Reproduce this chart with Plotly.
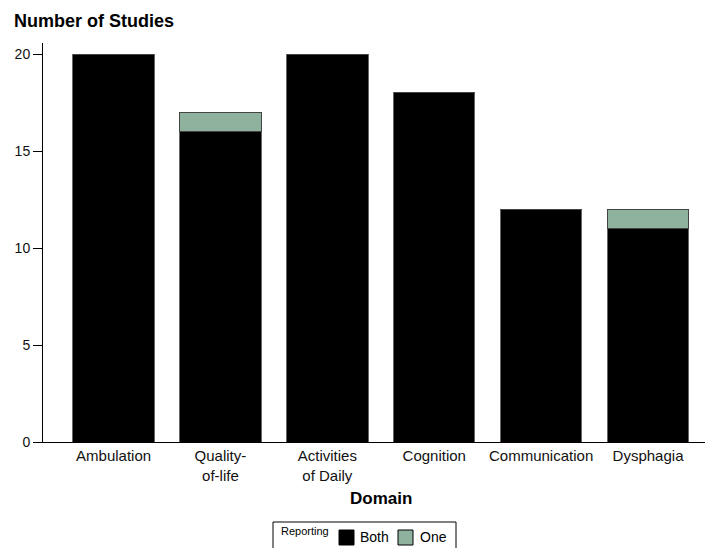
import plotly.graph_objects as go

categories = ["Ambulation", "Quality-<br>of-life", "Activities<br>of Daily", "Cognition", "Communication", "Dysphagia"]
both = [20, 16, 20, 18, 12, 11]
one = [0, 1, 0, 0, 0, 1]
y_ticks = [0, 5, 10, 15, 20]
series_names = ["Both", "One"]
series_colors = ["#000000", "#8fb29e"]

FONT = "Liberation Sans, Arial, sans-serif"
x_idx = list(range(len(categories)))

W, H = 705, 548
ML, MR, MT, MB = 43, 0, 43, 106
pw, ph = W - ML - MR, H - MT - MB


def px(x):
    return (x - ML) / pw


def py(y):
    return (H - MB - y) / ph


fig = go.Figure()
fig.add_trace(go.Bar(x=x_idx, y=both, name=series_names[0],
                     marker=dict(color=series_colors[0], line=dict(color="#666666", width=1)), width=0.762))
fig.add_trace(go.Bar(x=x_idx, y=one, name=series_names[1],
                     marker=dict(color=series_colors[1], line=dict(color="#444444", width=1)), width=0.762))

fig.update_layout(
    barmode="stack",
    width=W, height=H,
    margin=dict(l=ML, r=MR, t=MT, b=MB, autoexpand=False),
    plot_bgcolor="white", paper_bgcolor="white",
    font=dict(family=FONT, color="#000000", size=14),
    showlegend=False,
    xaxis=dict(range=[-0.66, 5.533], tickmode="array", tickvals=x_idx, ticktext=categories,
               showline=True, linecolor="#000000", linewidth=1, ticks="", showgrid=False,
               zeroline=False, automargin=False, tickfont=dict(size=15, color="#111111")),
    yaxis=dict(range=[0, 20.57], tickmode="array", tickvals=y_ticks, showline=True, linecolor="#000000",
               linewidth=1, ticks="outside", ticklen=9, tickcolor="#000000", showgrid=False,
               zeroline=False, automargin=False, tickfont=dict(size=14, color="#111111")),
)

fig.add_annotation(text="<b>Number of Studies</b>", x=px(12), y=py(21), xref="paper", yref="paper",
                   xanchor="left", yanchor="middle", showarrow=False, font=dict(size=18))
fig.add_annotation(text="<b>Domain</b>", x=px(381), y=py(498), xref="paper", yref="paper",
                   xanchor="center", yanchor="middle", showarrow=False, font=dict(size=17))

# legend box (drawn manually to match the original layout)
fig.add_shape(type="rect", xref="paper", yref="paper", x0=px(273), x1=px(456), y0=py(560), y1=py(522),
              line=dict(color="#000000", width=1), fillcolor="white", layer="above")
fig.add_annotation(text="Reporting", x=px(279), y=py(531), xref="paper", yref="paper",
                   xanchor="left", yanchor="middle", showarrow=False, font=dict(size=11))
sw_x = [339, 398]
tx_x = [358, 418]
for name, col, sx, tx in zip(series_names, series_colors, sw_x, tx_x):
    fig.add_shape(type="rect", xref="paper", yref="paper", x0=px(sx), x1=px(sx + 15),
                  y0=py(545), y1=py(530), line=dict(color="#000000", width=1), fillcolor=col, layer="above")
    fig.add_annotation(text=name, x=px(tx), y=py(537), xref="paper", yref="paper",
                       xanchor="left", yanchor="middle", showarrow=False, font=dict(size=14))

fig.write_html("out.html", config={"displayModeBar": False},
               post_script="document.body.style.margin='0';document.body.style.overflow='hidden';")
